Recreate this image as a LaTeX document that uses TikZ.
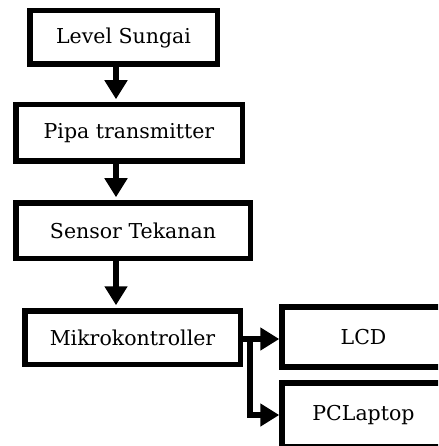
\documentclass[tikz,border=0pt]{standalone}
\usepackage{fontspec}
\setmainfont{DejaVu Serif}
\usepackage{tikz}
\usetikzlibrary{arrows.meta}

\begin{document}
\begin{tikzpicture}[x=1pt,y=-1pt,
  block/.style={draw,line width=5.5pt,inner sep=0pt,font=\fontsize{20.5}{24}\selectfont},
  open/.style={block,draw=none},
  frame/.style={line width=5.5pt,line join=miter},
  link/.style={line width=6pt,shorten >=2.75pt,-{Triangle[width=22pt 0 0,length=19pt 0 0]}}]
\useasboundingbox (0,0) rectangle (438,446);
\clip (0,0) rectangle (438,446);
\node[block,minimum width=187.5pt,minimum height=53.5pt] (sungai) at (123.5,37.5) {Level Sungai};
\node[block,minimum width=226.5pt,minimum height=56.5pt] (pipa) at (129,133) {Pipa transmitter};
\node[block,minimum width=234.5pt,minimum height=55.5pt] (sensor) at (133,230.5) {Sensor Tekanan};
\node[block,minimum width=215.5pt,minimum height=53.5pt] (mikro) at (132.5,337.5) {Mikrokontroller};
\node[open,minimum width=157.5pt,minimum height=54.5pt] (lcd) at (363.5,337) {LCD};
\node[open,minimum width=157.5pt,minimum height=58.5pt] (pc) at (363.5,415) {PCLaptop};
\coordinate (edge) at (460,0);
\foreach \n in {lcd,pc}
  \draw[frame] (\n.north west -| edge) -- (\n.north west) -- (\n.south west) -- (\n.south west -| edge);
\coordinate (spine) at (116,0);
\coordinate (split) at (250,339);
\draw[link] (sungai.south -| spine) -- (pipa.north -| spine);
\draw[link] (pipa.south -| spine) -- (sensor.north -| spine);
\draw[link] (sensor.south -| spine) -- (mikro.north -| spine);
\draw[link] (mikro.east |- split) -- (lcd.west |- split);
\draw[link] (split) |- (pc.west);
\end{tikzpicture}
\end{document}
